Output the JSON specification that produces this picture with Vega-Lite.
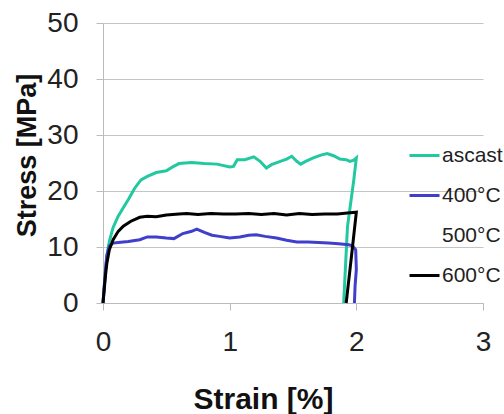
{
  "$schema": "https://vega.github.io/schema/vega-lite/v6.json",
  "width": 380,
  "height": 280,
  "autosize": "none",
  "padding": {"left": 103, "top": 23, "right": 21, "bottom": 111},
  "background": "white",
  "config": {
    "font": "Liberation Sans",
    "view": {"stroke": null}
  },
  "data": {
    "values": [
      {"s": "ascast", "i": 0, "x": 0, "y": 0},
      {"s": "ascast", "i": 1, "x": 0.01, "y": 3},
      {"s": "ascast", "i": 2, "x": 0.02, "y": 6},
      {"s": "ascast", "i": 3, "x": 0.035, "y": 9},
      {"s": "ascast", "i": 4, "x": 0.05, "y": 11},
      {"s": "ascast", "i": 5, "x": 0.08, "y": 13.5},
      {"s": "ascast", "i": 6, "x": 0.12, "y": 15.5},
      {"s": "ascast", "i": 7, "x": 0.16, "y": 17},
      {"s": "ascast", "i": 8, "x": 0.2, "y": 18.5},
      {"s": "ascast", "i": 9, "x": 0.25, "y": 20.5},
      {"s": "ascast", "i": 10, "x": 0.3, "y": 22},
      {"s": "ascast", "i": 11, "x": 0.35, "y": 22.6},
      {"s": "ascast", "i": 12, "x": 0.42, "y": 23.3},
      {"s": "ascast", "i": 13, "x": 0.5, "y": 23.6},
      {"s": "ascast", "i": 14, "x": 0.55, "y": 24.3},
      {"s": "ascast", "i": 15, "x": 0.6, "y": 24.9},
      {"s": "ascast", "i": 16, "x": 0.7, "y": 25.1},
      {"s": "ascast", "i": 17, "x": 0.8, "y": 24.9},
      {"s": "ascast", "i": 18, "x": 0.9, "y": 24.8},
      {"s": "ascast", "i": 19, "x": 1.0, "y": 24.3},
      {"s": "ascast", "i": 20, "x": 1.03, "y": 24.4},
      {"s": "ascast", "i": 21, "x": 1.06, "y": 25.6},
      {"s": "ascast", "i": 22, "x": 1.12, "y": 25.6},
      {"s": "ascast", "i": 23, "x": 1.19, "y": 26.1},
      {"s": "ascast", "i": 24, "x": 1.24, "y": 25.3},
      {"s": "ascast", "i": 25, "x": 1.29, "y": 24.1},
      {"s": "ascast", "i": 26, "x": 1.33, "y": 24.7},
      {"s": "ascast", "i": 27, "x": 1.4, "y": 25.3},
      {"s": "ascast", "i": 28, "x": 1.45, "y": 25.7},
      {"s": "ascast", "i": 29, "x": 1.49, "y": 26.2},
      {"s": "ascast", "i": 30, "x": 1.53, "y": 25.3},
      {"s": "ascast", "i": 31, "x": 1.56, "y": 24.8},
      {"s": "ascast", "i": 32, "x": 1.6, "y": 25.3},
      {"s": "ascast", "i": 33, "x": 1.66, "y": 25.9},
      {"s": "ascast", "i": 34, "x": 1.72, "y": 26.4},
      {"s": "ascast", "i": 35, "x": 1.77, "y": 26.7},
      {"s": "ascast", "i": 36, "x": 1.82, "y": 26.3},
      {"s": "ascast", "i": 37, "x": 1.87, "y": 25.7},
      {"s": "ascast", "i": 38, "x": 1.92, "y": 25.6},
      {"s": "ascast", "i": 39, "x": 1.95, "y": 25.3},
      {"s": "ascast", "i": 40, "x": 1.98, "y": 25.5},
      {"s": "ascast", "i": 41, "x": 2.0, "y": 25.9},
      {"s": "ascast", "i": 42, "x": 1.98, "y": 22},
      {"s": "ascast", "i": 43, "x": 1.93, "y": 13.6},
      {"s": "ascast", "i": 44, "x": 1.9, "y": 0},
      {"s": "400°C", "i": 0, "x": 0, "y": 0},
      {"s": "400°C", "i": 1, "x": 0.01, "y": 3},
      {"s": "400°C", "i": 2, "x": 0.02, "y": 6},
      {"s": "400°C", "i": 3, "x": 0.03, "y": 8.5},
      {"s": "400°C", "i": 4, "x": 0.05, "y": 10.2},
      {"s": "400°C", "i": 5, "x": 0.08, "y": 10.7},
      {"s": "400°C", "i": 6, "x": 0.12, "y": 10.8},
      {"s": "400°C", "i": 7, "x": 0.2, "y": 11.0},
      {"s": "400°C", "i": 8, "x": 0.29, "y": 11.3},
      {"s": "400°C", "i": 9, "x": 0.35, "y": 11.8},
      {"s": "400°C", "i": 10, "x": 0.42, "y": 11.8},
      {"s": "400°C", "i": 11, "x": 0.5, "y": 11.6},
      {"s": "400°C", "i": 12, "x": 0.56, "y": 11.5},
      {"s": "400°C", "i": 13, "x": 0.63, "y": 12.4},
      {"s": "400°C", "i": 14, "x": 0.7, "y": 12.8},
      {"s": "400°C", "i": 15, "x": 0.74, "y": 13.2},
      {"s": "400°C", "i": 16, "x": 0.8, "y": 12.6},
      {"s": "400°C", "i": 17, "x": 0.86, "y": 12.1},
      {"s": "400°C", "i": 18, "x": 0.92, "y": 11.9},
      {"s": "400°C", "i": 19, "x": 1.0, "y": 11.6},
      {"s": "400°C", "i": 20, "x": 1.08, "y": 11.8},
      {"s": "400°C", "i": 21, "x": 1.15, "y": 12.1},
      {"s": "400°C", "i": 22, "x": 1.21, "y": 12.2},
      {"s": "400°C", "i": 23, "x": 1.28, "y": 11.9},
      {"s": "400°C", "i": 24, "x": 1.37, "y": 11.6},
      {"s": "400°C", "i": 25, "x": 1.45, "y": 11.2},
      {"s": "400°C", "i": 26, "x": 1.53, "y": 10.9},
      {"s": "400°C", "i": 27, "x": 1.62, "y": 10.9},
      {"s": "400°C", "i": 28, "x": 1.7, "y": 10.8},
      {"s": "400°C", "i": 29, "x": 1.78, "y": 10.7},
      {"s": "400°C", "i": 30, "x": 1.86, "y": 10.6},
      {"s": "400°C", "i": 31, "x": 1.94, "y": 10.4},
      {"s": "400°C", "i": 32, "x": 1.97, "y": 10.2},
      {"s": "400°C", "i": 33, "x": 1.995, "y": 9.5},
      {"s": "400°C", "i": 34, "x": 2.0, "y": 6},
      {"s": "400°C", "i": 35, "x": 1.99, "y": 3},
      {"s": "400°C", "i": 36, "x": 1.985, "y": 0},
      {"s": "600°C", "i": 0, "x": 0, "y": 0},
      {"s": "600°C", "i": 1, "x": 0.01, "y": 2.5},
      {"s": "600°C", "i": 2, "x": 0.02, "y": 5},
      {"s": "600°C", "i": 3, "x": 0.03, "y": 7},
      {"s": "600°C", "i": 4, "x": 0.05, "y": 9.5},
      {"s": "600°C", "i": 5, "x": 0.08, "y": 11.3},
      {"s": "600°C", "i": 6, "x": 0.12, "y": 12.8},
      {"s": "600°C", "i": 7, "x": 0.16, "y": 13.7},
      {"s": "600°C", "i": 8, "x": 0.22, "y": 14.6},
      {"s": "600°C", "i": 9, "x": 0.29, "y": 15.3},
      {"s": "600°C", "i": 10, "x": 0.35, "y": 15.5},
      {"s": "600°C", "i": 11, "x": 0.42, "y": 15.4},
      {"s": "600°C", "i": 12, "x": 0.5, "y": 15.7},
      {"s": "600°C", "i": 13, "x": 0.6, "y": 15.9},
      {"s": "600°C", "i": 14, "x": 0.66, "y": 16.0},
      {"s": "600°C", "i": 15, "x": 0.75, "y": 15.8},
      {"s": "600°C", "i": 16, "x": 0.85, "y": 16.0},
      {"s": "600°C", "i": 17, "x": 0.95, "y": 15.9},
      {"s": "600°C", "i": 18, "x": 1.05, "y": 15.9},
      {"s": "600°C", "i": 19, "x": 1.15, "y": 16.0},
      {"s": "600°C", "i": 20, "x": 1.25, "y": 15.8},
      {"s": "600°C", "i": 21, "x": 1.35, "y": 16.0},
      {"s": "600°C", "i": 22, "x": 1.45, "y": 15.7},
      {"s": "600°C", "i": 23, "x": 1.55, "y": 16.0},
      {"s": "600°C", "i": 24, "x": 1.65, "y": 15.8},
      {"s": "600°C", "i": 25, "x": 1.75, "y": 15.9},
      {"s": "600°C", "i": 26, "x": 1.85, "y": 15.9},
      {"s": "600°C", "i": 27, "x": 1.95, "y": 16.1},
      {"s": "600°C", "i": 28, "x": 2.0, "y": 16.2},
      {"s": "600°C", "i": 29, "x": 1.96, "y": 8},
      {"s": "600°C", "i": 30, "x": 1.92, "y": 0}
    ]
  },
  "mark": {"type": "line", "strokeWidth": 3, "clip": false},
  "encoding": {
    "x": {
      "field": "x", "type": "quantitative",
      "scale": {"domain": [0, 3], "nice": false},
      "axis": {
        "values": [0, 1, 2, 3], "format": "d", "grid": false,
        "title": "Strain [%]", "titleFontSize": 30, "titleFontWeight": "bold", "titleColor": "#111",
        "titleX": 160, "titleY": 105, "titleBaseline": "alphabetic", "titleAnchor": "middle",
        "labelFontSize": 28, "labelColor": "#222", "labelPadding": 18,
        "domainColor": "#bbbbbb", "tickColor": "#bbbbbb", "tickSize": 7,
        "labelFlush": false
      }
    },
    "y": {
      "field": "y", "type": "quantitative",
      "scale": {"domain": [0, 50], "nice": false},
      "axis": {
        "values": [0, 10, 20, 30, 40, 50], "grid": true, "gridColor": "#c4c4c4",
        "title": "Stress [MPa]", "titleFontSize": 27, "titleFontWeight": "bold", "titleColor": "#111",
        "titleX": -68, "titleY": 132, "titleBaseline": "alphabetic", "titleAnchor": "middle", "titleAngle": -90,
        "labelFontSize": 28, "labelColor": "#222", "labelPadding": 18,
        "domainColor": "#bbbbbb", "tickColor": "#bbbbbb", "tickSize": 7
      }
    },
    "color": {
      "field": "s", "type": "nominal",
      "scale": {"domain": ["ascast", "400°C", "500°C", "600°C"], "range": ["#22c8a0", "#3f3fcc", "#ffffff", "#000000"]},
      "legend": {
        "title": null, "orient": "none", "legendX": 305, "legendY": 116,
        "symbolType": "stroke", "symbolSize": 900, "symbolStrokeWidth": 3,
        "labelFontSize": 21, "labelColor": "#222", "labelOffset": 1,
        "rowPadding": 13
      }
    },
    "order": {"field": "i", "type": "quantitative"}
  }
}
